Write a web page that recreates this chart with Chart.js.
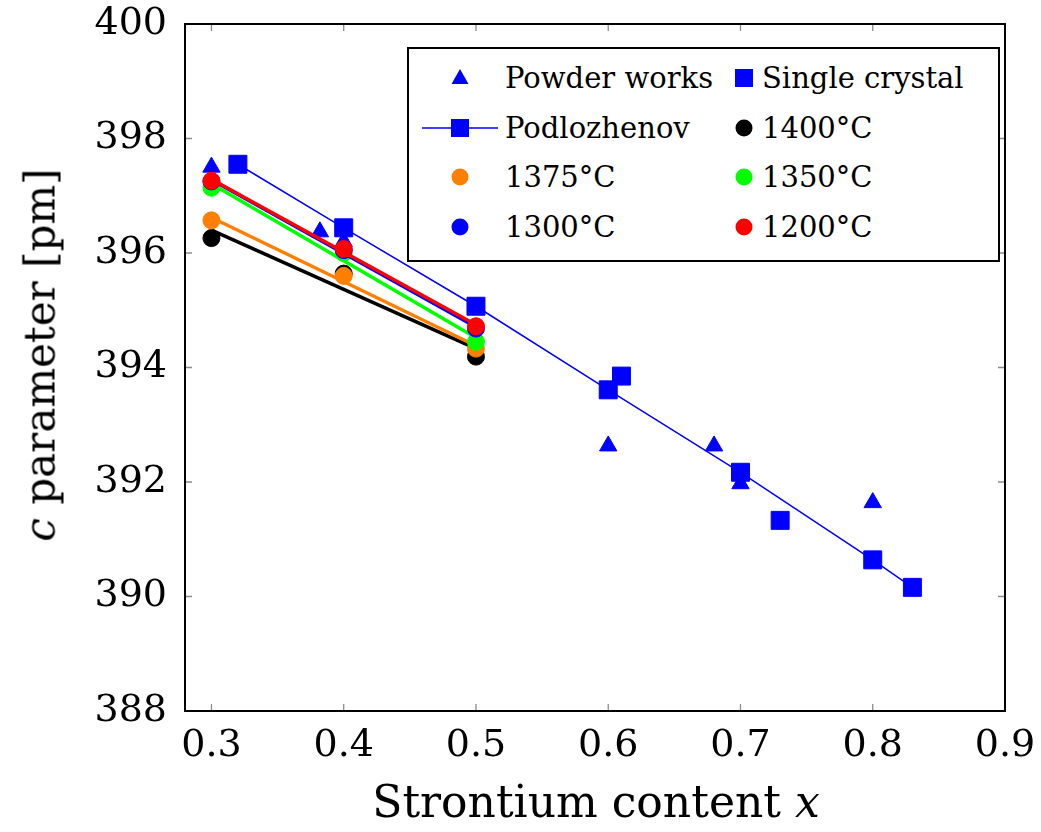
<!DOCTYPE html>
<html>
<head>
<meta charset="utf-8">
<script src="https://cdn.jsdelivr.net/npm/chart.js@4"></script>
<style>
body { margin: 0; background: #fff; }
#wrap { position: relative; width: 1041px; height: 832px; font-family: "DejaVu Serif", serif; color: #000; }
#myChart { position: absolute; left: 0; top: 0; }
.ytitle { position: absolute; left: 40px; top: 355px; transform: translate(-50%, -50%) rotate(-90deg); font-size: 42px; white-space: nowrap; }
.xtitle { position: absolute; left: 596px; top: 801px; transform: translate(-50%, -50%); font-size: 44px; white-space: nowrap; }
#legend { position: absolute; left: 407px; top: 47px; width: 589px; height: 211px; border: 2px solid #000; background: #fff; }
.lg-mark { position: absolute; width: 80px; height: 30px; }
.lg-text { position: absolute; font-size: 29px; line-height: 34px; white-space: nowrap; }
</style>
</head>
<body>
<div id="wrap">
    <canvas id="myChart" width="1041" height="832"></canvas>
    <div class="ytitle"><i>c</i> parameter [pm]</div>
    <div class="xtitle">Strontium content <i>x</i></div>
    <div id="legend"></div>
</div>
<script>
const xTickValues = [0.3, 0.4, 0.5, 0.6, 0.7, 0.8, 0.9];
const yTickValues = [388, 390, 392, 394, 396, 398, 400];

// powder diffraction results from other works
const powderX = [0.3, 0.382, 0.4, 0.6, 0.68, 0.7, 0.8];
const powderC = [397.5, 396.37, 396.2, 392.63, 392.63, 391.97, 391.64];

const crystalX = [0.61, 0.73];
const crystalC = [393.85, 391.33];

const podX = [0.32, 0.4, 0.5, 0.6, 0.7, 0.8, 0.83];
const podC = [397.55, 396.44, 395.07, 393.61, 392.17, 390.64, 390.16];

// own samples, one array per sintering temperature
const tempX = [0.3, 0.4, 0.5];
const c1400 = [396.26, 395.64, 394.19];
const c1375 = [396.57, 395.60, 394.33];
const c1350 = [397.14, 396.00, 394.45];
const c1300 = [397.25, 396.05, 394.68];
const c1200 = [397.26, 396.07, 394.72];

const temps = [
    { label: "1400°C", values: c1400, color: "#000000" },
    { label: "1375°C", values: c1375, color: "#ff8000" },
    { label: "1350°C", values: c1350, color: "#00ff00" },
    { label: "1300°C", values: c1300, color: "#0000ff" },
    { label: "1200°C", values: c1200, color: "#ff0000" }
];

const blue = "#0000ff";
const serif = "'DejaVu Serif', serif";

function toPoints(xs, ys) {
    return xs.map((x, i) => ({ x: x, y: ys[i] }));
}

// least squares line through the points, drawn from first to last x
function fitLine(xs, ys) {
    const n = xs.length;
    const mx = xs.reduce((a, b) => a + b, 0) / n;
    const my = ys.reduce((a, b) => a + b, 0) / n;
    let sxy = 0, sxx = 0;
    for (let i = 0; i < n; i++) {
        sxy += (xs[i] - mx) * (ys[i] - my);
        sxx += (xs[i] - mx) * (xs[i] - mx);
    }
    const k = sxy / sxx;
    const ends = [xs[0], xs[n - 1]];
    return ends.map(x => ({ x: x, y: my + k * (x - mx) }));
}

// drawn bottom to top
let datasets = [
    {
        label: "Powder works",
        data: toPoints(powderX, powderC),
        pointStyle: "triangle",
        pointRadius: 10,
        backgroundColor: blue,
        borderColor: blue,
        pointBorderWidth: 1
    },
    {
        label: "Single crystal",
        data: toPoints(crystalX, crystalC),
        pointStyle: "rect",
        pointRadius: 12.7,
        backgroundColor: blue,
        borderColor: blue,
        pointBorderWidth: 1
    },
    {
        label: "Podlozhenov",
        data: toPoints(podX, podC),
        showLine: true,
        borderWidth: 1.5,
        pointStyle: "rect",
        pointRadius: 12.7,
        backgroundColor: blue,
        borderColor: blue,
        pointBorderWidth: 1
    }
];

temps.forEach(t => {
    datasets.push({
        label: t.label + " fit",
        data: fitLine(tempX, t.values),
        showLine: true,
        borderWidth: 3.5,
        borderColor: t.color,
        pointRadius: 0,
        fit: true
    });
    datasets.push({
        label: t.label,
        data: toPoints(tempX, t.values),
        pointStyle: "circle",
        pointRadius: 8.5,
        backgroundColor: t.color,
        borderColor: t.color,
        pointBorderWidth: 1
    });
});

datasets.forEach((ds, i) => { ds.order = 100 - i; });

// inward tick marks on all four sides and the box around the plot
const frameTicks = {
    id: "frameTicks",
    beforeDatasetsDraw(chart) {
        const ctx = chart.ctx;
        const ca = chart.chartArea;
        const xs = chart.scales.x;
        const ys = chart.scales.y;
        const len = 7;
        ctx.save();
        ctx.strokeStyle = "#8c8c8c";
        ctx.lineWidth = 1.3;
        ctx.beginPath();
        xTickValues.forEach(v => {
            const px = xs.getPixelForValue(v);
            ctx.moveTo(px, ca.bottom); ctx.lineTo(px, ca.bottom - len);
            ctx.moveTo(px, ca.top); ctx.lineTo(px, ca.top + len);
        });
        yTickValues.forEach(v => {
            const py = ys.getPixelForValue(v);
            ctx.moveTo(ca.left, py); ctx.lineTo(ca.left + len, py);
            ctx.moveTo(ca.right, py); ctx.lineTo(ca.right - len, py);
        });
        ctx.stroke();
        ctx.strokeStyle = "#000";
        ctx.lineWidth = 2;
        ctx.strokeRect(ca.left, ca.top, ca.right - ca.left, ca.bottom - ca.top);
        ctx.restore();
    }
};

new Chart("myChart", {
    type: "scatter",
    data: { datasets: datasets },
    options: {
        responsive: false,
        animation: false,
        layout: { padding: { left: 0, top: 24, right: 36, bottom: 0 } },
        plugins: {
            legend: { display: false },
            tooltip: { enabled: false }
        },
        scales: {
            x: {
                type: "linear",
                min: 0.28,
                max: 0.9,
                grid: { display: false, drawTicks: false },
                border: { display: false },
                afterBuildTicks: scale => { scale.ticks = xTickValues.map(v => ({ value: v })); },
                afterFit: scale => {
                    scale.height = 121;
                    scale.paddingLeft = 0;
                    scale.paddingRight = 0;
                },
                ticks: {
                    padding: 12,
                    color: "#000",
                    font: { family: serif, size: 38 },
                    callback: v => v.toFixed(1)
                }
            },
            y: {
                type: "linear",
                min: 388,
                max: 400,
                grid: { display: false, drawTicks: false },
                border: { display: false },
                afterBuildTicks: scale => { scale.ticks = yTickValues.map(v => ({ value: v })); },
                afterFit: scale => {
                    scale.width = 185;
                    scale.paddingTop = 0;
                    scale.paddingBottom = 0;
                },
                ticks: {
                    padding: 18,
                    color: "#000",
                    font: { family: serif, size: 38 },
                    callback: v => String(v)
                }
            }
        }
    },
    plugins: [frameTicks]
});

// two column legend, entries in the same order as the series
function markerSvg(ds) {
    const c = ds.backgroundColor;
    let shape = "";
    if (ds.pointStyle === "triangle") {
        shape = `<polygon points="40,6 48.5,21 31.5,21" fill="${c}"/>`;
    } else if (ds.pointStyle === "rect") {
        shape = `<rect x="31" y="6" width="18" height="18" fill="${c}"/>`;
    } else {
        shape = `<circle cx="40" cy="15" r="8.5" fill="${c}"/>`;
    }
    if (ds.showLine) {
        shape = `<line x1="2" y1="15" x2="78" y2="15" stroke="${c}" stroke-width="1.5"/>` + shape;
    }
    return `<svg width="80" height="30" viewBox="0 0 80 30">${shape}</svg>`;
}

const legend = document.getElementById("legend");
const markX = [460, 744];
const textX = [505, 762];
const legendTop = 49;

datasets.filter(ds => !ds.fit).forEach((ds, i) => {
    const row = Math.floor(i / 2);
    const col = i % 2;
    const cy = 78 + row * 49.7 - legendTop;
    legend.innerHTML += `
        <div class="lg-mark" style="left:${markX[col] - 407 - 2 - 40}px; top:${cy - 15}px">${markerSvg(ds)}</div>
        <div class="lg-text" style="left:${textX[col] - 409}px; top:${cy - 17}px">${ds.label}</div>
    `;
});
</script>
</body>
</html>
